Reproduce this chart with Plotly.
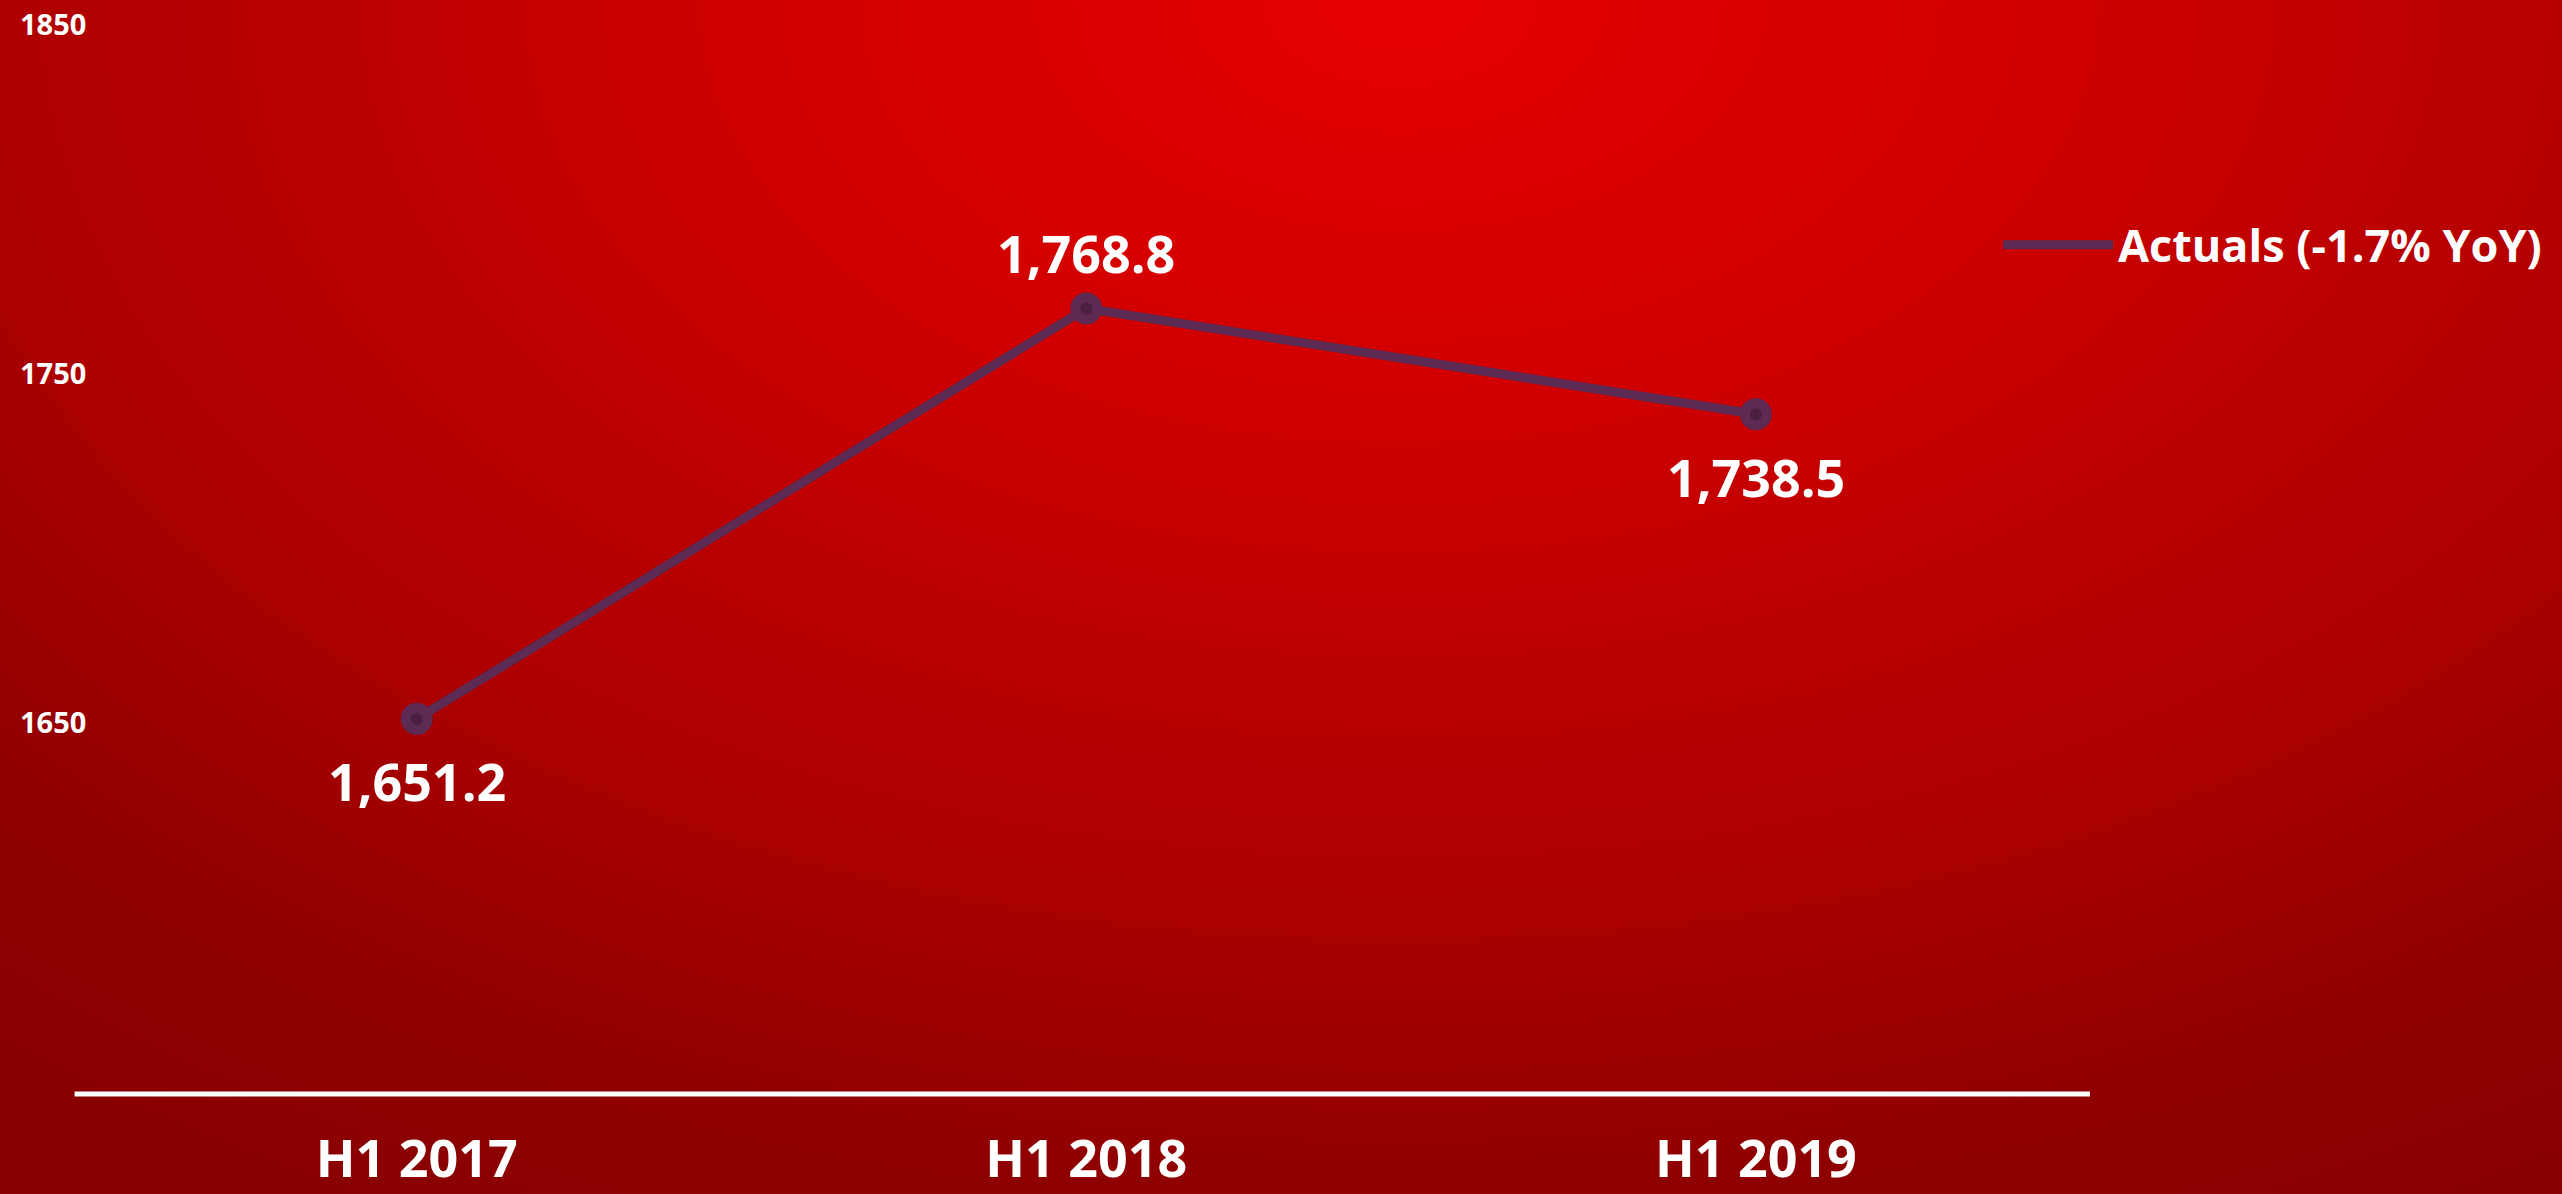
import base64
import plotly.graph_objects as go

# chart data
periods = ["H1 2017", "H1 2018", "H1 2019"]
actuals = [1651.2, 1768.8, 1738.5]
series_name = "Actuals (-1.7% YoY)"
y_ticks = [1650, 1750, 1850]
label_side = ["below", "above", "below"]

LINE_COL = "#5C2A52"
FONT = "Open Sans"

# radial red background, brightest at the top centre
svg = """<svg xmlns='http://www.w3.org/2000/svg' width='2562' height='1194' viewBox='0 0 2562 1194' preserveAspectRatio='none'>
<defs><radialGradient id='g' gradientUnits='userSpaceOnUse' cx='1400' cy='0' r='2470'
 gradientTransform='translate(1400 0) scale(1 0.6316) translate(-1400 0)'>
<stop offset='0' stop-color='#E60000'/>
<stop offset='0.246' stop-color='#D20000'/>
<stop offset='0.438' stop-color='#B90000'/>
<stop offset='0.569' stop-color='#AE0000'/>
<stop offset='0.769' stop-color='#8E0000'/>
<stop offset='1' stop-color='#840000'/>
</radialGradient></defs>
<rect width='2562' height='1194' fill='url(#g)'/></svg>"""
bg_uri = "data:image/svg+xml;base64," + base64.b64encode(svg.encode()).decode()

W, H = 2562, 1194
ml, mr, mt, mb = 17, 472, 0, 100
pw, ph = W - ml - mr, H - mt - mb

fig = go.Figure()
# line (shown in legend) and the ring markers on top
fig.add_trace(go.Scatter(
    x=periods, y=actuals, name=series_name, mode="lines",
    line=dict(color=LINE_COL, width=9), hoverinfo="skip",
))
fig.add_trace(go.Scatter(
    x=periods, y=actuals, mode="markers", showlegend=False,
    marker=dict(symbol="circle", size=22, color="#4A1F40",
                line=dict(color=LINE_COL, width=10)),
    hoverinfo="skip",
))

# value labels above/below the points
for p, v, side in zip(periods, actuals, label_side):
    fig.add_annotation(
        x=p, y=v, text=f"{v:,.1f}", showarrow=False,
        yshift=-62 if side == "below" else 56,
        font=dict(family=FONT, size=52, color="white", weight=700),
    )

fig.add_shape(type="line", xref="x", yref="paper", x0=-0.511, x1=2.499, y0=0, y1=0,
              line=dict(color="white", width=5))

fig.add_layout_image(dict(
    source=bg_uri, xref="paper", yref="paper",
    x=-ml / pw, y=1 + mt / ph, sizex=W / pw, sizey=H / ph,
    xanchor="left", yanchor="top", sizing="stretch", layer="below",
))

fig.update_layout(
    width=W, height=H,
    margin=dict(l=ml, r=mr, t=mt, b=mb, autoexpand=False),
    paper_bgcolor="#A80000", plot_bgcolor="rgba(0,0,0,0)",
    showlegend=True,
    legend=dict(x=0.9556, y=0.776, xanchor="left", yanchor="middle",
                bgcolor="rgba(0,0,0,0)", itemwidth=110,
                font=dict(family=FONT, size=45, color="white", weight=700)),
    xaxis=dict(type="category", categoryorder="array", categoryarray=periods,
               range=[-0.597, 2.499], showgrid=False, zeroline=False, showline=False,
               automargin=False, ticklabelstandoff=30,
               tickfont=dict(family=FONT, size=52, color="white", weight=700)),
    yaxis=dict(range=[1543.7, 1857.2], tickvals=y_ticks, showgrid=False, zeroline=False,
               showline=False, automargin=False, ticklabelposition="inside",
               tickfont=dict(family=FONT, size=29, color="white", weight=700)),
)

fig.write_html("out.html", config={"displayModeBar": False},
               post_script="document.body.style.margin='0';document.body.style.overflow='hidden';")
